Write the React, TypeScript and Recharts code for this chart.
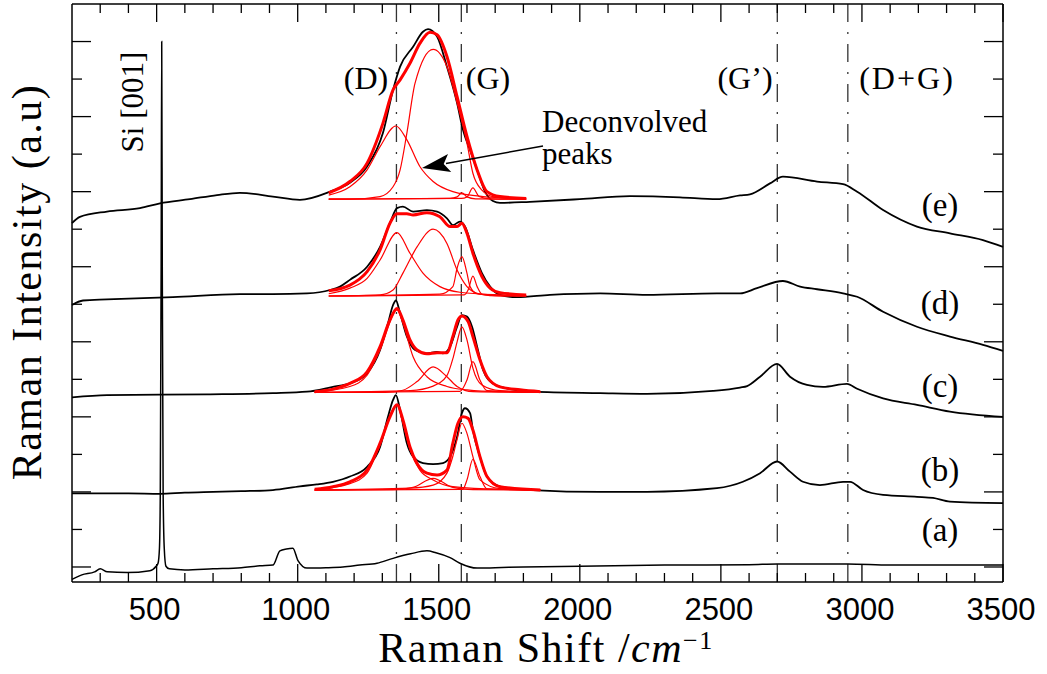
import React from 'react';
import { LineChart, Line, XAxis, YAxis, ReferenceLine } from 'recharts';

// Raman spectra (a)-(e), offsets as plotted, x in cm^-1
type Pt = [number, number];

const xTicks = [300, 400, 500, 600, 700, 800, 900, 1000, 1100, 1200, 1300, 1400, 1500, 1600, 1700, 1800, 1900, 2000, 2100, 2200, 2300, 2400, 2500, 2600, 2700, 2800, 2900, 3000, 3100, 3200, 3300, 3400, 3500];
const yTicks = [0, 1, 2, 3, 4, 5, 6, 7, 8, 9, 10, 11, 12, 13, 14];

const peakLines = [1350, 1580, 2700, 2950];
const peakNames = ['(D)', '(G)', '(G’)', '(D+G)'];
const sampleLabels = ['(a)', '(b)', '(c)', '(d)', '(e)'];

const spectrumA: Pt[] = [
  [200, -0.33], [235, -0.21], [280, -0.13], [300, -0.05], [325, -0.13], [395, -0.15], [476, -0.1], [498, 0.02],
  [505, 0.1], [510, 0.5], [513, 2], [516, 8], [518, 14], [520, 8], [523, 2], [527, 0.5], [533, 0.02], [545, -0.05],
  [600, -0.08], [700, -0.05], [800, -0.02], [866, 0.03], [912, 0.05], [937, 0.43], [960, 0.48], [983, 0.5],
  [1001, 0.17], [1033, -0.03], [1100, -0.02], [1160, 0.0], [1220, 0.05], [1281, 0.1], [1338, 0.23], [1400, 0.35],
  [1458, 0.43], [1490, 0.38], [1540, 0.25], [1575, 0.1], [1636, -0.03], [1700, -0.02], [1800, 0.0], [2000, 0.02],
  [2300, 0.05], [2600, 0.06], [2700, 0.08], [2950, 0.08], [3100, 0.05], [3300, 0.05], [3500, 0.05],
];

const spectrumB: Pt[] = [
  [200, 1.96], [300, 1.96], [400, 1.96], [512, 1.95], [600, 1.98], [700, 2.0], [800, 2.02], [912, 2.05],
  [1008, 2.15], [1068, 2.2], [1125, 2.27], [1185, 2.41], [1246, 2.67], [1292, 3.2], [1320, 4.0], [1338, 4.45],
  [1348, 4.58], [1363, 4.18], [1387, 3.3], [1409, 2.94], [1444, 2.77], [1480, 2.74], [1515, 2.77], [1540, 2.94],
  [1565, 3.47], [1582, 4.1], [1593, 4.23], [1611, 4.1], [1621, 3.65], [1646, 2.94], [1671, 2.41], [1717, 2.14],
  [1777, 2.08], [1834, 2.05], [2072, 2.0], [2238, 2.0], [2486, 2.1], [2578, 2.27], [2639, 2.5], [2699, 2.81],
  [2745, 2.54], [2791, 2.27], [2851, 2.18], [2933, 2.27], [2958, 2.27], [3004, 2.05], [3075, 1.92], [3195, 1.87],
  [3252, 1.84], [3312, 1.74], [3500, 1.7],
];

const spectrumC: Pt[] = [
  [200, 4.52], [324, 4.58], [679, 4.6], [912, 4.63], [1033, 4.67], [1125, 4.8], [1185, 4.89], [1246, 5.16],
  [1292, 5.78], [1320, 6.49], [1338, 6.98], [1348, 7.1], [1363, 6.76], [1387, 6.14], [1416, 5.78], [1458, 5.69],
  [1494, 5.73], [1515, 5.69], [1540, 5.87], [1565, 6.4], [1582, 6.71], [1600, 6.67], [1618, 6.4], [1636, 5.87],
  [1657, 5.25], [1692, 4.89], [1742, 4.76], [1834, 4.67], [2072, 4.63], [2238, 4.61], [2472, 4.69], [2568, 4.78],
  [2593, 4.82], [2639, 5.07], [2699, 5.41], [2745, 5.07], [2805, 4.85], [2862, 4.8], [2947, 4.88], [2983, 4.75],
  [3075, 4.49], [3195, 4.32], [3312, 4.14], [3500, 4.0],
];

const spectrumD: Pt[] = [
  [200, 6.98], [239, 7.1], [324, 7.13], [558, 7.19], [795, 7.27], [912, 7.27], [1033, 7.29], [1115, 7.38],
  [1150, 7.47], [1185, 7.65], [1246, 8.0], [1292, 8.53], [1327, 9.16], [1352, 9.56], [1373, 9.6], [1409, 9.47],
  [1458, 9.51], [1494, 9.47], [1529, 9.29], [1550, 9.11], [1575, 9.2], [1593, 9.07], [1621, 8.45], [1653, 7.83],
  [1682, 7.47], [1717, 7.25], [1777, 7.19], [1894, 7.25], [2072, 7.29], [2238, 7.25], [2486, 7.29], [2568, 7.29],
  [2628, 7.43], [2720, 7.62], [2781, 7.47], [2841, 7.4], [2933, 7.29], [2983, 7.2], [3075, 6.8], [3195, 6.4],
  [3312, 6.14], [3429, 5.92], [3500, 5.76],
];

const spectrumE: Pt[] = [
  [200, 9.16], [228, 9.33], [324, 9.47], [441, 9.56], [512, 9.69], [618, 9.8], [714, 9.91], [795, 9.97],
  [912, 9.87], [1008, 9.78], [1115, 10.0], [1185, 10.24], [1246, 10.67], [1302, 11.56], [1338, 12.71],
  [1363, 13.33], [1409, 13.86], [1444, 14.26], [1462, 14.33], [1494, 14.13], [1529, 13.33], [1565, 12.36],
  [1586, 11.64], [1611, 11.11], [1636, 10.58], [1664, 10.0], [1692, 9.75], [1717, 9.7], [1823, 9.73], [2000, 9.8],
  [2178, 9.88], [2355, 9.85], [2486, 9.8], [2568, 9.9], [2603, 9.93], [2674, 10.22], [2720, 10.4], [2841, 10.27],
  [2933, 10.2], [2983, 10.0], [3075, 9.51], [3195, 9.07], [3312, 8.89], [3429, 8.71], [3500, 8.53],
];

// deconvolved fits (sum + components)
const fitE: Pt[][] = [
  [[1110, 9.97], [1185, 10.27], [1246, 10.76], [1302, 11.82], [1338, 12.71], [1363, 12.98], [1398, 13.42], [1433, 13.95], [1469, 14.25], [1494, 14.18], [1529, 13.6], [1565, 12.53], [1600, 11.47], [1636, 10.58], [1671, 10.0], [1717, 9.87], [1810, 9.82]],
  [[1110, 9.91], [1185, 10.13], [1246, 10.58], [1292, 11.2], [1348, 11.75], [1387, 11.38], [1433, 10.67], [1480, 10.27], [1550, 10.0], [1657, 9.87], [1810, 9.82]],
  [[1110, 9.8], [1185, 9.8], [1292, 9.87], [1338, 10.13], [1363, 10.58], [1387, 11.56], [1416, 12.89], [1480, 13.79], [1529, 13.33], [1565, 12.36], [1600, 11.29], [1621, 10.49], [1653, 10.04], [1692, 9.87], [1810, 9.8]],
  [[1110, 9.8], [1540, 9.82], [1565, 9.86], [1582, 9.97], [1600, 9.86], [1630, 9.81], [1810, 9.8]],
  [[1110, 9.8], [1580, 9.82], [1600, 9.86], [1621, 10.1], [1643, 9.87], [1680, 9.81], [1810, 9.8]],
];

const fitD: Pt[][] = [
  [[1110, 7.36], [1185, 7.51], [1246, 7.87], [1292, 8.45], [1327, 9.16], [1352, 9.41], [1387, 9.41], [1409, 9.38], [1458, 9.44], [1504, 9.33], [1540, 9.07], [1565, 9.07], [1582, 9.16], [1600, 8.89], [1621, 8.36], [1653, 7.74], [1682, 7.43], [1717, 7.31], [1810, 7.25]],
  [[1110, 7.28], [1185, 7.43], [1246, 7.69], [1292, 8.18], [1352, 8.91], [1398, 8.36], [1444, 7.83], [1504, 7.47], [1575, 7.32], [1717, 7.25], [1810, 7.23]],
  [[1110, 7.22], [1292, 7.25], [1338, 7.38], [1373, 7.83], [1423, 8.53], [1480, 9.0], [1529, 8.62], [1565, 7.91], [1600, 7.47], [1646, 7.27], [1717, 7.22], [1810, 7.22]],
  [[1110, 7.22], [1504, 7.27], [1550, 7.47], [1565, 7.96], [1582, 8.27], [1600, 7.83], [1611, 7.47], [1636, 7.28], [1700, 7.23], [1810, 7.22]],
  [[1110, 7.22], [1590, 7.25], [1604, 7.38], [1621, 7.75], [1636, 7.47], [1653, 7.27], [1810, 7.22]],
];

const fitC: Pt[][] = [
  [[1060, 4.67], [1125, 4.74], [1185, 4.89], [1246, 5.2], [1292, 5.87], [1327, 6.58], [1352, 6.89], [1373, 6.58], [1398, 6.05], [1423, 5.78], [1458, 5.68], [1494, 5.71], [1529, 5.71], [1550, 6.14], [1568, 6.58], [1582, 6.69], [1604, 6.54], [1621, 6.14], [1646, 5.52], [1671, 5.07], [1717, 4.8], [1788, 4.72], [1860, 4.67]],
  [[1060, 4.66], [1185, 4.81], [1246, 5.11], [1292, 5.78], [1352, 6.85], [1373, 6.49], [1409, 5.6], [1458, 5.07], [1529, 4.81], [1600, 4.72], [1717, 4.67], [1860, 4.66]],
  [[1060, 4.65], [1310, 4.65], [1373, 4.71], [1423, 4.94], [1480, 5.33], [1529, 5.07], [1565, 4.81], [1621, 4.67], [1860, 4.65]],
  [[1060, 4.65], [1400, 4.7], [1480, 4.82], [1529, 5.1], [1550, 5.55], [1565, 6.0], [1582, 6.4], [1600, 6.05], [1621, 5.3], [1653, 4.85], [1717, 4.7], [1860, 4.66]],
  [[1060, 4.65], [1575, 4.68], [1600, 4.98], [1621, 5.47], [1646, 4.98], [1671, 4.7], [1860, 4.65]],
];

const fitB: Pt[][] = [
  [[1060, 2.07], [1125, 2.14], [1185, 2.27], [1246, 2.58], [1292, 3.3], [1327, 4.0], [1352, 4.32], [1373, 3.92], [1398, 3.2], [1423, 2.76], [1458, 2.5], [1494, 2.45], [1529, 2.58], [1550, 3.3], [1568, 3.83], [1586, 4.0], [1604, 3.96], [1621, 3.65], [1646, 2.94], [1671, 2.41], [1717, 2.14], [1860, 2.05]],
  [[1060, 2.06], [1185, 2.22], [1246, 2.5], [1292, 3.25], [1352, 4.32], [1373, 3.83], [1398, 3.12], [1433, 2.58], [1480, 2.32], [1550, 2.14], [1717, 2.07], [1860, 2.06]],
  [[1060, 2.05], [1338, 2.06], [1409, 2.12], [1480, 2.36], [1550, 2.12], [1621, 2.06], [1860, 2.05]],
  [[1060, 2.05], [1400, 2.1], [1480, 2.18], [1529, 2.5], [1550, 2.95], [1565, 3.4], [1582, 3.83], [1600, 3.56], [1621, 2.94], [1646, 2.32], [1717, 2.09], [1860, 2.06]],
  [[1060, 2.05], [1585, 2.07], [1600, 2.32], [1621, 2.87], [1646, 2.41], [1671, 2.08], [1860, 2.05]],
];

const W = 1047;
const H = 674;
const PLOT = { left: 72, right: 1003, top: 4, bottom: 582 };
const AX = 2; // thin axis boxes so recharts renders them
const X_DOMAIN: [number, number] = [200, 3500];
const Y_DOMAIN: [number, number] = [-0.4, 15];
const serif = '"Liberation Serif", "Times New Roman", serif';
const sans = '"Liberation Sans", Arial, sans-serif';

const toPts = (arr: Pt[]) => arr.map(([x, y]) => ({ x, y }));

// frame ticks (decoration only) placed in the same frame as the plot
const xPx = (v: number) => PLOT.left + ((v - X_DOMAIN[0]) / (X_DOMAIN[1] - X_DOMAIN[0])) * (PLOT.right - PLOT.left);
const yPx = (v: number) => PLOT.bottom - ((v - Y_DOMAIN[0]) / (Y_DOMAIN[1] - Y_DOMAIN[0])) * (PLOT.bottom - PLOT.top);

const BottomLabel = (props: any) => {
  const { x, payload } = props;
  if (payload.value % 500 !== 0) return <g />;
  return (
    <text x={x - 2} y={620} textAnchor="middle" fontFamily={sans} fontSize={31} fill="#000">
      {payload.value}
    </text>
  );
};

const spectra = [spectrumA, spectrumB, spectrumC, spectrumD, spectrumE];
const fits = [fitB, fitC, fitD, fitE];
const axisLine = { stroke: '#000', strokeWidth: 1.5 };

export default function App() {
  return (
    <div style={{ position: 'absolute', left: 0, top: 0, width: W, height: H, background: '#fff' }}>
      <LineChart
        width={W}
        height={H}
        margin={{ top: PLOT.top - AX, right: W - PLOT.right - AX, bottom: H - PLOT.bottom - AX, left: PLOT.left - AX }}
      >
        <XAxis
          dataKey="x"
          type="number"
          domain={X_DOMAIN}
          ticks={xTicks}
          interval={0}
          height={AX}
          tickLine={false}
          tick={(p: any) => <BottomLabel {...p} />}
          axisLine={axisLine}
        />
        <XAxis xAxisId="top" orientation="top" dataKey="x" type="number" domain={X_DOMAIN} height={AX} tick={false} tickLine={false} axisLine={axisLine} />
        <YAxis type="number" domain={Y_DOMAIN} width={AX} tick={false} tickLine={false} axisLine={axisLine} />
        <YAxis yAxisId="right" orientation="right" type="number" domain={Y_DOMAIN} width={AX} tick={false} tickLine={false} axisLine={axisLine} />

        {peakLines.map((p) => (
          <ReferenceLine key={p} x={p} stroke="#333" strokeWidth={1.3} strokeDasharray="18 10 2 10" />
        ))}
        {spectra.map((s, i) => (
          <Line
            key={'s' + i}
            name={sampleLabels[i]}
            data={toPts(s)}
            dataKey="y"
            type="monotone"
            stroke="#000"
            strokeWidth={i === 0 ? 1.5 : 1.8}
            dot={false}
            activeDot={false}
            isAnimationActive={false}
          />
        ))}
        {fits.map((f, i) =>
          f.map((c, j) => (
            <Line
              key={'f' + i + '-' + j}
              name={'fit' + i + '-' + j}
              data={toPts(c)}
              dataKey="y"
              type="monotone"
              stroke="#ff0000"
              strokeWidth={j === 0 ? 3 : 1.2}
              dot={false}
              activeDot={false}
              isAnimationActive={false}
            />
          ))
        )}
      </LineChart>
      <svg width={W} height={H} style={{ position: 'absolute', left: 0, top: 0, pointerEvents: 'none' }}>
        <g stroke="#000" strokeWidth={1.3}>
          {xTicks.map((v) => {
            const len = v % 500 === 0 ? 18 : 9;
            const x = xPx(v);
            return (
              <g key={'xt' + v}>
                <line x1={x} x2={x} y1={PLOT.bottom} y2={PLOT.bottom - len} />
                <line x1={x} x2={x} y1={PLOT.top} y2={PLOT.top + len} />
              </g>
            );
          })}
          {yTicks.map((v) => {
            const len = v % 2 === 0 ? 19 : 10;
            const y = yPx(v);
            return (
              <g key={'yt' + v}>
                <line x1={PLOT.left} x2={PLOT.left + len} y1={y} y2={y} />
                <line x1={PLOT.right} x2={PLOT.right - len} y1={y} y2={y} />
              </g>
            );
          })}
        </g>
        <text transform="translate(41, 282) rotate(-90)" textAnchor="middle" fontFamily={serif} fontSize={42} letterSpacing={1.5} fill="#000">
          Raman Intensity (a.u)
        </text>
        <text x={546} y={662} textAnchor="middle" fontFamily={serif} fontSize={42} letterSpacing={1.5} fill="#000">
          Raman Shift /<tspan fontStyle="italic">cm</tspan>
          <tspan dy={-13} fontSize={26}>−1</tspan>
        </text>
        <text transform="translate(143, 102) rotate(-90)" textAnchor="middle" fontFamily={serif} fontSize={31} fill="#000">
          Si [001]
        </text>
        {[366, 488, 745, 907].map((x, i) => (
          <text key={peakNames[i]} x={x} y={89} textAnchor="middle" fontFamily={serif} fontSize={32} letterSpacing={i === 3 ? 2 : 0} fill="#000">
            {peakNames[i]}
          </text>
        ))}
        <text x={542} y={132} fontFamily={serif} fontSize={31} fill="#000">Deconvolved</text>
        <text x={542} y={164} fontFamily={serif} fontSize={31} fill="#000">peaks</text>
        <line x1={543} y1={146} x2={446} y2={163.5} stroke="#000" strokeWidth={1.5} />
        <polygon points="422,168 451.2,171.9 443.7,164.1 448,154.1" fill="#000" />
        {[541, 481, 397, 314, 216].map((y, i) => (
          <text key={sampleLabels[i]} x={940} y={y} textAnchor="middle" fontFamily={serif} fontSize={33} fill="#000">
            {sampleLabels[i]}
          </text>
        ))}
      </svg>
    </div>
  );
}
